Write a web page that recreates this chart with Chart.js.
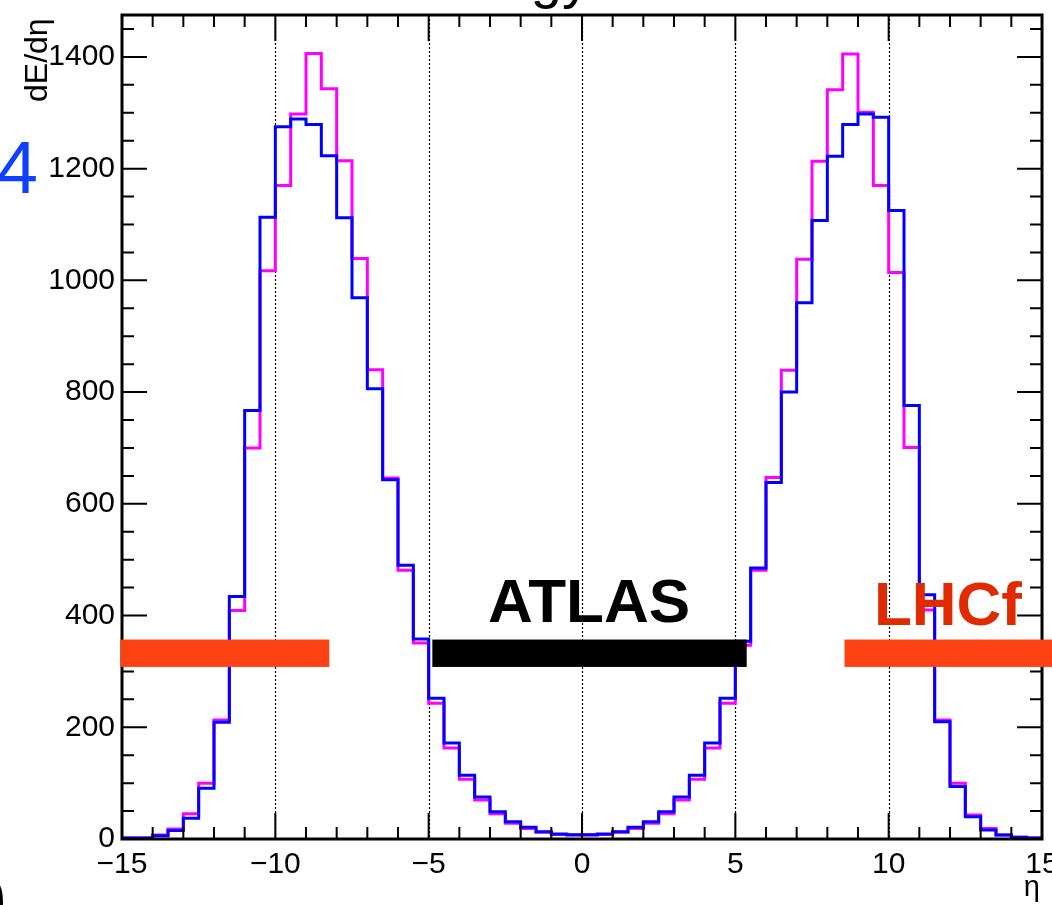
<!DOCTYPE html>
<html>
<head>
<meta charset="utf-8">
<script src="https://cdn.jsdelivr.net/npm/chart.js@4"></script>
<style>
  html, body { margin: 0; padding: 0; background: #fff; }
  #wrap { width: 1052px; height: 905px; }
</style>
</head>
<body>
<div id="wrap"><canvas id="histChart" width="1052" height="905"></canvas></div>
<script>
// binning: 60 bins of 0.5 in eta
const etaEdges = Array.from({ length: 61 }, (_, i) => -15 + i * 0.5);

// magenta histogram (bin contents, left to right)
const magentaVals = [2, 2, 7, 18, 45, 100, 213, 409, 700, 1017,
  1170, 1298, 1406, 1343, 1214, 1039, 840, 646, 481, 351,
  243, 163, 107, 70, 45, 28, 19, 12, 8, 7,
  7, 8, 12, 19, 28, 45, 70, 107, 163, 243,
  347, 481, 647, 839, 1038, 1213, 1341, 1405, 1301, 1170,
  1014, 701, 410, 213, 100, 43, 19, 7, 3, 2];

// blue histogram
const blueVals = [2, 2, 6, 15, 37, 91, 209, 434, 767, 1113,
  1275, 1289, 1279, 1223, 1112, 969, 806, 643, 490, 358,
  252, 172, 114, 75, 49, 31, 21, 13, 9, 7.5,
  7.5, 9, 13, 21, 31, 49, 75, 114, 172, 252,
  354, 485, 638, 800, 960, 1107, 1222, 1279, 1298, 1292,
  1125, 776, 437, 210, 94, 40, 16, 7, 3, 2];

// axes
const xTicks = [-15, -10, -5, 0, 5, 10, 15];
const yTicks = [0, 200, 400, 600, 800, 1000, 1200, 1400];
const gridEta = [-10, -5, 0, 5, 10];
const yMax = 1475;

// acceptance bars (eta range, y range)
const barLabels = ["LHCf", "ATLAS", "LHCf"];
const barEtaLo = [-15.05, -4.88, 8.56];
const barEtaHi = [-8.24, 5.37, 15.4];
const barYLo = 308;
const barYHi = 357;

function toSteps(vals) {
  const pts = vals.map((v, i) => ({ x: etaEdges[i], y: v }));
  pts.push({ x: etaEdges[etaEdges.length - 1], y: vals[vals.length - 1] });
  return pts;
}

const minus = v => (v < 0 ? "\u2212" + Math.abs(v) : String(v));

const rootStyle = {
  id: "rootStyle",
  beforeDatasetsDraw(chart) {
    const { ctx, chartArea: a, scales: { x } } = chart;
    ctx.save();
    ctx.strokeStyle = "#000";
    ctx.lineWidth = 1.2;
    ctx.setLineDash([2, 2]);
    gridEta.forEach(e => {
      const px = Math.round(x.getPixelForValue(e)) + 0.5;
      ctx.beginPath();
      ctx.moveTo(px, a.top);
      ctx.lineTo(px, a.bottom);
      ctx.stroke();
    });
    ctx.restore();
  },
  afterDraw(chart) {
    const { ctx, chartArea: a, scales: { x, y } } = chart;
    ctx.save();

    // ticks inside the frame, on all four sides
    ctx.strokeStyle = "#000";
    ctx.lineWidth = 2;
    ctx.beginPath();
    for (let e = -15; e <= 15; e++) {
      const px = x.getPixelForValue(e);
      const len = e % 5 === 0 ? 26 : 12;
      ctx.moveTo(px, a.bottom); ctx.lineTo(px, a.bottom - len);
      ctx.moveTo(px, a.top); ctx.lineTo(px, a.top + len);
    }
    for (let v = 0; v <= yMax; v += 50) {
      const py = y.getPixelForValue(v);
      const len = v % 200 === 0 ? 25 : 12;
      ctx.moveTo(a.left, py); ctx.lineTo(a.left + len, py);
      ctx.moveTo(a.right, py); ctx.lineTo(a.right - len, py);
    }
    ctx.stroke();

    // frame
    ctx.lineWidth = 3;
    ctx.strokeRect(a.left, a.top, a.right - a.left, a.bottom - a.top);

    // acceptance bars
    barLabels.forEach((name, i) => {
      const x0 = x.getPixelForValue(barEtaLo[i]);
      const x1 = x.getPixelForValue(barEtaHi[i]);
      const y0 = y.getPixelForValue(barYHi);
      const y1 = y.getPixelForValue(barYLo);
      ctx.fillStyle = name === "ATLAS" ? "#000000" : "#ff4213";
      ctx.fillRect(x0, y0, x1 - x0, y1 - y0);
    });

    ctx.font = "bold 62px 'Liberation Sans', Arial, sans-serif";
    ctx.textBaseline = "alphabetic";
    ctx.fillStyle = "#000";
    ctx.textAlign = "center";
    ctx.fillText("ATLAS", x.getPixelForValue(0.23), y.getPixelForValue(388));
    ctx.fillStyle = "#e02a00";
    ctx.textAlign = "right";
    ctx.fillText("LHCf", 1022, y.getPixelForValue(383));

    // title (cut off at the top)
    ctx.fillStyle = "#000";
    ctx.font = "56px 'Liberation Sans', Arial, sans-serif";
    ctx.textAlign = "right";
    ctx.fillText("Energy", 590, -3);

    // y axis title
    ctx.save();
    ctx.translate(47, 102);
    ctx.rotate(-Math.PI / 2);
    ctx.font = "32px 'Liberation Sans', Arial, sans-serif";
    ctx.textAlign = "left";
    ctx.fillText("dE/d\u03b7", 0, 0);
    ctx.restore();

    // x axis title
    ctx.font = "29px 'Liberation Sans', Arial, sans-serif";
    ctx.textAlign = "right";
    ctx.fillText("\u03b7", 1040, 896);

    // pieces of neighbouring panels
    ctx.font = "74px 'Liberation Sans', Arial, sans-serif";
    ctx.fillStyle = "#1040ff";
    ctx.fillText("4", 38, 193);
    ctx.fillStyle = "#000";
    ctx.fillText("0", 6, 928);

    ctx.restore();
  }
};

new Chart(document.getElementById("histChart"), {
  type: "line",
  data: {
    datasets: [
      {
        label: "blue",
        data: toSteps(blueVals),
        borderColor: "#0000ff",
        borderWidth: 3,
        stepped: true,
        pointRadius: 0,
        fill: false
      },
      {
        label: "magenta",
        data: toSteps(magentaVals),
        borderColor: "#ff00ff",
        borderWidth: 3,
        stepped: true,
        pointRadius: 0,
        fill: false
      }
    ]
  },
  options: {
    responsive: false,
    animation: false,
    layout: { padding: { top: 15, right: 10, left: 0, bottom: 0 } },
    plugins: { legend: { display: false }, tooltip: { enabled: false } },
    scales: {
      x: {
        type: "linear",
        min: -15,
        max: 15,
        border: { display: false },
        grid: { display: false, drawTicks: false },
        afterBuildTicks: s => { s.ticks = xTicks.map(v => ({ value: v })); },
        afterFit: s => { s.height = 66; s.paddingLeft = 0; s.paddingRight = 0; },
        ticks: {
          autoSkip: false,
          maxRotation: 0,
          padding: 8,
          color: "#000",
          font: { family: "'Liberation Sans', Arial, sans-serif", size: 30 },
          callback: v => minus(v)
        }
      },
      y: {
        min: 0,
        max: yMax,
        border: { display: false },
        grid: { display: false, drawTicks: false },
        afterBuildTicks: s => { s.ticks = yTicks.map(v => ({ value: v })); },
        afterFit: s => { s.width = 122; s.paddingTop = 0; s.paddingBottom = 0; },
        ticks: {
          padding: 7,
          color: "#000",
          font: { family: "'Liberation Sans', Arial, sans-serif", size: 30 },
          callback: v => String(v)
        }
      }
    }
  },
  plugins: [rootStyle]
});
</script>
</body>
</html>
